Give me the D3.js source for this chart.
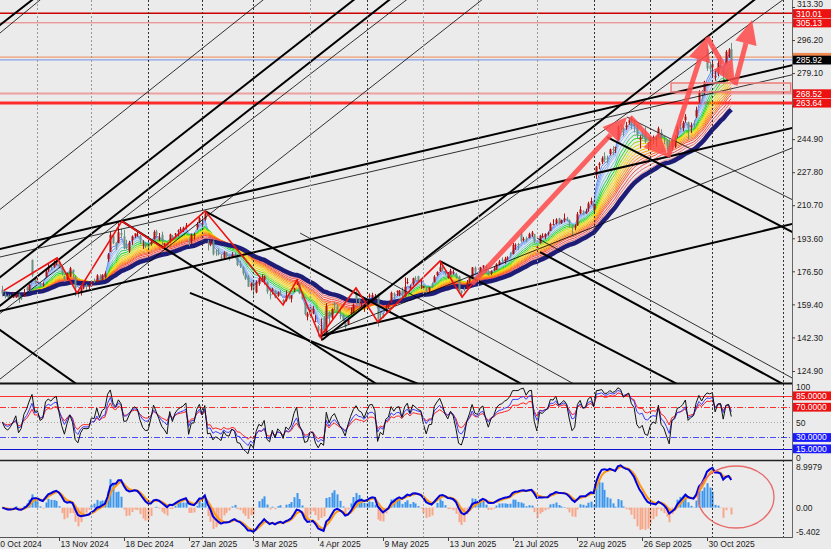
<!DOCTYPE html>
<html><head><meta charset="utf-8">
<script src="https://cdn.jsdelivr.net/npm/d3@7"></script>
<style>body{margin:0;background:#ebebeb}svg{display:block}</style>
</head><body>
<svg id="c" width="831" height="549"></svg>
<script>
// ---------- DATA (daily OHLC) ----------
const oct2024=[[167.0,169.0,163.5,164.9],[164.5,165.5,162.5,163.4],[164.0,164.6,161.8,162.9],[163.5,164.5,162.7,163.4],[162.9,165.5,162.7,164.1],[162.9,165.8,162.8,165.1],[164.5,164.9,160.1,162.1],[162.8,163.5,161.6,162.7],[163.5,167.4,163.3,165.3],[168.2,168.8,166.3,166.7],[167.1,169.7,166.5,169.7],[182.4,182.6,173.6,174.5],[173.0,173.6,170.2,171.1]];
const nov2024=[[170.9,173.9,170.4,171.3],[169.8,170.9,168.3,169.2],[169.2,170.8,168.6,169.7],[173.9,177.4,173.5,176.5],[176.9,180.8,176.2,178.8],[178.8,179.4,177.3,178.4],[178.9,182.0,178.2,180.5],[180.4,182.7,179.6,181.6],[181.6,182.1,178.1,178.9],[178.9,179.1,174.4,175.6],[173.8,174.1,171.1,172.5],[172.4,175.8,172.1,175.3],[173.7,178.8,173.5,178.1],[177.3,177.4,173.2,176.0],[173.9,174.1,163.7,167.6],[165.8,166.5,163.0,164.8],[165.3,168.1,164.0,167.7],[167.6,169.4,167.2,169.1],[169.5,169.9,166.5,168.9],[168.5,169.4,167.2,169.0]];
const dec2024=[[168.8,172.0,168.5,171.5],[171.5,172.8,170.5,171.3],[171.1,175.0,170.8,174.4],[174.0,175.0,172.0,172.6],[172.0,175.0,171.8,174.7],[173.3,176.5,172.8,175.4],[182.8,186.0,181.4,185.2],[186.6,196.9,186.5,195.4],[195.0,195.2,190.5,191.0],[191.3,191.5,187.5,189.8],[191.2,201.4,191.0,196.7],[196.3,198.6,194.0,195.4],[194.6,198.0,188.0,188.4],[189.9,192.8,187.9,188.5],[187.2,192.3,186.0,191.4],[192.6,195.1,190.2,194.6],[194.8,196.1,193.7,196.1],[195.2,196.8,194.4,195.6],[194.9,195.3,190.6,192.8],[189.8,192.6,188.1,190.4],[191.1,191.5,188.5,189.3]];
const jan2025=[[190.7,192.0,187.5,189.4],[190.6,192.4,189.8,191.8],[193.1,197.8,192.9,196.9],[197.1,198.0,193.7,195.5],[193.9,196.3,192.4,193.9],[195.4,197.0,190.0,192.0],[190.1,191.2,187.6,191.0],[191.2,191.9,187.9,189.7],[192.3,196.0,191.3,195.6],[194.9,195.3,192.7,192.9],[196.0,196.3,193.7,196.0],[197.0,198.2,194.6,197.6],[198.3,199.4,197.2,198.4],[198.0,199.6,196.8,199.0],[199.5,201.5,198.5,200.2],[192.0,194.0,189.5,191.8],[192.0,196.0,190.7,195.3],[195.0,196.5,193.0,195.4],[199.2,202.0,198.0,200.9],[201.8,204.7,201.5,204.0]];
const feb2025=[[200.7,203.8,199.5,201.2],[203.4,207.1,202.7,206.4],[192.0,192.8,187.3,191.3],[190.0,193.0,189.5,191.6],[192.0,192.6,184.7,185.3],[186.8,188.0,184.5,186.5],[186.0,188.3,184.7,185.3],[184.1,185.5,182.1,183.6],[183.5,186.9,183.1,186.1],[186.3,186.6,183.7,184.1],[184.3,184.6,182.0,183.8],[183.4,186.4,183.3,185.3],[185.5,186.0,183.3,184.6],[185.1,185.3,179.2,179.7],[180.3,182.0,178.2,179.3],[178.5,179.0,174.4,175.4],[174.9,175.9,172.0,172.7],[173.5,174.7,168.5,168.5],[168.7,170.6,166.6,170.3]];
const mar2025=[[170.4,172.1,163.9,167.0],[165.6,171.8,165.1,170.9],[170.0,173.8,169.0,173.0],[171.0,174.9,170.9,172.4],[172.0,174.3,169.7,173.9],[170.6,171.2,164.8,165.9],[164.6,167.8,162.0,164.0],[166.9,168.0,164.6,167.1],[166.4,167.0,162.6,162.8],[163.8,166.1,163.3,165.5],[164.9,166.9,163.9,164.3],[161.7,162.1,158.8,160.7],[161.5,166.6,160.8,163.9],[162.9,164.9,162.0,162.8],[162.4,164.2,160.4,164.0],[167.0,168.0,165.8,167.7],[169.8,172.5,169.4,170.6],[170.0,170.6,164.7,165.1],[164.0,165.1,161.8,162.2],[160.0,160.6,153.6,154.3],[153.0,155.5,151.1,154.6]];
const apr2025=[[154.0,158.0,153.0,157.1],[154.7,158.5,154.2,157.0],[150.4,153.8,150.2,150.7],[148.0,148.6,142.7,145.6],[141.5,152.1,140.5,146.8],[152.4,153.4,143.3,144.7],[143.8,160.0,142.7,158.7],[155.2,155.8,148.9,152.8],[152.4,157.3,151.5,157.1],[159.9,160.7,156.3,159.1],[158.2,159.7,156.2,156.3],[153.7,156.5,151.7,153.3],[154.0,154.2,150.6,151.2],[149.9,150.0,146.7,147.7],[149.1,152.6,148.9,151.5],[154.6,157.8,154.0,155.4],[155.0,159.8,154.8,159.3],[165.5,167.8,159.6,162.0],[162.0,162.8,158.5,160.6],[159.6,161.3,158.1,160.2],[157.6,159.5,155.5,158.8]];
const may2025=[[160.5,161.9,158.9,161.3],[163.4,165.0,162.5,164.0],[163.0,165.4,162.4,164.2],[162.1,164.8,161.6,163.2],[164.1,165.0,147.8,151.4],[154.5,155.8,150.9,154.3],[154.1,155.0,152.2,152.8],[157.5,159.1,155.3,158.5],[158.1,160.3,157.4,159.5],[160.5,166.0,160.0,165.4],[165.0,165.6,162.1,164.0],[166.0,166.7,163.7,166.2],[164.0,166.8,163.6,166.5],[166.4,168.2,163.2,164.0],[163.6,173.4,163.3,168.6],[170.4,173.0,169.8,170.9],[167.9,169.6,167.4,168.5],[170.2,173.2,169.2,172.9],[172.9,174.0,171.7,172.4],[174.0,174.2,170.6,171.9],[171.4,172.2,167.4,171.7]];
const jun2025=[[167.8,169.9,167.0,169.0],[167.5,168.5,165.1,166.2],[166.6,168.2,165.4,168.1],[170.0,170.8,167.8,168.2],[170.8,174.5,170.8,173.7],[174.5,176.5,174.0,176.1],[176.5,181.0,176.3,178.6],[179.4,179.9,176.6,177.4],[176.2,176.6,174.6,175.7],[173.0,176.1,172.7,174.7],[174.7,177.8,174.4,176.8],[175.7,177.3,174.8,176.0],[175.0,175.8,172.7,173.3],[173.9,174.2,166.4,166.6],[166.4,166.7,163.0,165.2],[167.4,168.2,166.0,166.8],[167.7,172.0,167.6,170.7],[170.8,173.6,170.3,173.5],[173.6,178.7,172.9,178.5],[178.4,179.0,175.0,176.2]];
const jul2025=[[176.0,176.3,172.9,175.8],[175.6,178.8,175.2,178.6],[178.8,179.7,177.5,179.5],[179.0,179.9,175.4,176.8],[176.4,177.1,174.3,174.4],[175.3,177.0,174.5,176.6],[177.1,179.0,176.6,177.6],[177.3,180.7,177.2,180.2],[180.1,182.3,179.6,181.6],[182.5,183.7,181.0,182.0],[181.9,184.0,180.4,183.0],[183.0,184.3,182.3,183.6],[185.2,186.4,183.7,185.1],[185.5,191.2,185.2,190.1],[190.0,191.0,187.5,190.2],[190.6,191.2,187.5,190.2],[196.0,197.0,191.5,192.2],[192.7,194.3,191.9,193.2],[193.5,194.5,191.6,192.6],[193.7,196.5,193.6,195.8],[195.6,197.4,194.4,196.5],[195.7,195.9,191.0,191.9]];
const aug2025=[[189.0,190.0,186.4,189.1],[191.0,195.4,190.9,195.0],[194.5,196.2,193.9,194.7],[194.4,196.2,193.2,195.8],[196.4,197.1,195.0,196.5],[197.4,201.7,197.3,201.0],[200.8,203.5,200.4,200.9],[201.6,204.0,200.8,203.3],[203.8,204.2,200.8,202.0],[201.5,203.3,201.0,202.9],[203.2,206.4,201.9,203.9],[203.8,204.7,202.5,203.5],[202.8,203.3,199.2,201.6],[200.3,200.3,194.9,199.3],[199.1,200.8,197.8,199.8],[200.1,207.2,200.0,206.1],[206.5,210.2,206.0,208.5],[207.8,208.0,205.8,207.1],[206.5,208.9,206.3,207.5],[209.0,212.5,207.3,211.6],[211.5,214.7,211.0,212.9]];
const sep2025=[[208.4,211.4,206.9,211.4],[226.2,231.0,224.3,230.7],[231.4,233.0,229.3,232.3],[233.0,236.0,232.0,235.0],[236.0,238.1,232.9,234.0],[235.0,236.4,232.5,234.4],[237.2,240.0,236.4,239.6],[239.9,241.3,236.7,239.2],[240.2,241.0,237.7,240.8],[244.7,252.0,244.4,251.6],[252.4,252.6,249.7,251.2],[250.7,251.3,246.4,249.5],[251.0,253.8,249.7,252.0],[253.3,256.0,252.4,254.7],[254.4,256.7,250.0,252.5],[253.0,254.3,248.4,251.7],[252.0,252.3,245.4,247.1],[244.6,246.8,240.1,245.8],[246.9,249.0,244.9,246.5],[247.8,251.1,242.8,243.6],[242.8,243.3,239.2,243.1]];
const oct2025=[[240.8,246.0,240.8,244.9],[245.2,246.8,242.3,245.7],[244.5,246.4,241.0,245.4],[247.7,251.4,246.1,250.4],[248.3,250.0,245.3,245.8],[244.9,246.5,242.2,244.6],[244.6,244.7,239.3,241.5],[241.4,244.8,235.0,236.6],[240.2,244.5,239.1,244.2],[241.2,247.0,240.4,245.5],[247.3,252.0,245.5,251.0],[252.8,254.6,249.7,251.5],[250.7,254.3,249.0,253.3],[254.7,257.9,253.5,256.6],[253.7,254.0,244.7,250.5],[251.0,253.5,248.1,251.7],[252.9,254.7,251.2,252.5],[256.6,261.7,255.8,259.9],[264.5,270.2,263.4,269.3],[269.6,270.4,265.5,267.5],[269.3,275.1,267.8,274.6],[291.6,291.8,280.2,281.5],[283.0,285.0,279.2,281.2]];
const nov2025=[[282.0,285.6,276.5,283.7],[276.8,281.0,275.1,277.5],[278.9,286.3,277.4,284.3],[285.2,288.2,281.6,284.8],[280.5,281.0,274.0,278.8],[284.0,291.0,283.5,290.1],[287.5,292.0,286.9,291.3],[291.5,294.7,285.0,285.9]];

const tickLabels=["10 Oct 2024","13 Nov 2024","18 Dec 2024","27 Jan 2025","3 Mar 2025","4 Apr 2025","9 May 2025","13 Jun 2025","21 Jul 2025","22 Aug 2025","26 Sep 2025","30 Oct 2025"];
const tickBars=[-3,21,45,69,93,117,141,165,189,213,237,261];
const monthBars=[13,33,54,74,93,114,135,156,176,198,219,240,263,289];
const monthDark=[0,0,1,1,1,0,1,0,0,0,1,1,1,1];
const priceTicks=[313.30,296.20,279.10,262.00,244.90,227.80,210.70,193.60,176.50,159.40,142.30,124.90];
const hiddenTicks=[262.00];

const levelPrices=[310.01,305.13,287.36,285.92,268.52,263.64];
const levelLabels=["310.01","305.13","","285.92","268.52","263.64"];
const rsiLevels=[85,70,50,30,15];
const rsiLabels=["85.0000","70.0000","","30.0000","15.0000"];

// trend lines [bar1, price1, bar2, price2]
const thickLines=[[45.07,223.76,110.26,295.18],[58.41,223.76,110.26,280.69],[-0.85,303.98,11,316.92],[-0.85,188.04,292.5,283.12],[-0.85,155.95,292.5,250.67],[-0.85,146.1,26.93,118.7]];
const thinLines=[[63.22,223.76,110.26,274.48],[12.85,223.76,96.56,316.92],[92.85,223.76,110.26,242.91],[-0.85,299.84,13.96,316.92],[-0.85,183.9,292.5,278.2]];
const thickRays=[[117.67,143.0,292.48,200.98],[118.4,140.94,213.96,246.01],[44.3,202.5,110.26,143.5],[75.1,207.7,143.59,155.4],[69.5,165.3,122.5,135.8],[162.1,181.8,221.37,138.87],[224.0,246.0,269.5,213.4],[199.15,186.49,288.4,118.7]];
const thinRays=[[110.3,196.3,135.1,177.2],[231.37,256.36,292.48,213.66],[117.67,143.0,292.48,240.32],[117.67,142.5,172.1,197.9],[198.0,193.74,292.48,121.3]];

// zigzag and arrows
const zigBars=[0.5,20.3,27.7,44.3,59.5,75.1,104,109.1,117.7,131,139.1,162.1,170.3,174];
const zigPrices=[166.5,183.4,165.3,202.5,188.6,207.7,159.1,172.0,142.5,167.9,150.3,181.8,163.2,169.9];
const arrowsData=[[173.96,169.93,231.37,256.36],[232.48,256.36,246.56,235.66],[246.56,235.66,261.0,297.77],[261.0,297.77,271.37,272.93],[271.37,272.93,277.67,306.57]];
const boxBars=[247.7,292];
const boxPrices=[273.96,269.3];

const emaPeriods=[3,4,5,6,8,10,12,14,16,18,20,22,24,26,28,31,34,37];
const emaColors=['#5b86f0','#7099f5','#86adf8','#9cc0fb','#78c8e8','#30c860','#10dd10','#88d800','#d8e000','#ffd400','#ffb800','#ff9c00','#ff8000','#ff6420','#ff4a30','#f04848','#f06868','#f48c8c'];
const navyPeriod=40;

// ---------- BUILD ----------
const bars=[].concat(oct2024,nov2024,dec2024,jan2025,feb2025,mar2025,apr2025,may2025,jun2025,jul2025,aug2025,sep2025,oct2025,nov2025);
const close=bars.map(d=>d[3]);

function ema(a,n){const k=2/(n+1);let p=a[0];return a.map((v,i)=>{p=i===0?v:v*k+p*(1-k);return p;});}
function rsi(c,n){const out=[50];let ag=1,al=1;for(let i=1;i<c.length;i++){const ch=c[i]-c[i-1];ag=(ag*(n-1)+Math.max(ch,0))/n;al=(al*(n-1)+Math.max(-ch,0))/n;out.push(100-100/(1+ag/al));}return out;}

const W=831,H=549,R=792;
const x=d3.scaleLinear().domain([0,270]).range([2.3,2.3+270*2.7]);
const y=d3.scaleLinear().domain([124.9,313.3]).range([371,7]);
const yR=d3.scaleLinear().domain([0,100]).range([460,384.3]);
const yM=d3.scaleLinear().domain([-5.402,8.9979]).range([532,467]);

const svg=d3.select('#c');
svg.append('rect').attr('width',W).attr('height',H).attr('fill','#ebebeb');
const defs=svg.append('defs');
[['cp',0,0,R,383],['cr',0,385,R,75],['cm',0,462,R,75]].forEach(c=>{defs.append('clipPath').attr('id',c[0]).append('rect').attr('x',c[1]).attr('y',c[2]).attr('width',c[3]).attr('height',c[4]);});

const gP=svg.append('g').attr('clip-path','url(#cp)');
const gR=svg.append('g').attr('clip-path','url(#cr)');
const gM=svg.append('g').attr('clip-path','url(#cm)');

monthBars.forEach((b,i)=>{
  svg.append('line').attr('x1',Math.round(x(b))+0.5).attr('x2',Math.round(x(b))+0.5).attr('y1',0).attr('y2',537)
   .attr('stroke',monthDark[i]?'#333':'#999').attr('stroke-width',1).attr('stroke-dasharray','2,2');
});

const lvlStyle=[['#cc0000',1.5],['#e87878',1],['#f08a50',1],['#6f90ea',1],['#eea0a0',2],['#ff2a2a',3]];
levelPrices.forEach((p,i)=>{gP.append('line').attr('x1',0).attr('x2',R).attr('y1',y(p)).attr('y2',y(p)).attr('stroke',lvlStyle[i][0]).attr('stroke-width',lvlStyle[i][1]);});

const line=d3.line().x((d,i)=>x(i)).y(d=>y(d));
emaPeriods.forEach((n,i)=>{gP.append('path').attr('d',line(ema(close,n))).attr('fill','none').attr('stroke',emaColors[i]).attr('stroke-width',1);});
gP.append('path').attr('d',line(ema(close,navyPeriod))).attr('fill','none').attr('stroke','#1d1d78').attr('stroke-width',4.5);

const cg=gP.append('g');
bars.forEach((d,i)=>{
  const up=d[3]>=d[0];const col=up?'#b40f0f':'#6c9084';
  const cx=Math.round(x(i))+0.5;
  cg.append('line').attr('x1',cx).attr('x2',cx).attr('y1',y(d[1])).attr('y2',y(d[2])).attr('stroke',col).attr('stroke-width',1);
  const t=y(Math.max(d[0],d[3])),b=y(Math.min(d[0],d[3]));
  cg.append('rect').attr('x',cx-1).attr('y',t).attr('width',2).attr('height',Math.max(1,b-t)).attr('fill',col);
});

function drawTL(arr,w,ray){
  arr.forEach(l=>{
    const x1=x(l[0]),y1=y(l[1]),x2=x(l[2]),y2=y(l[3]);const s=(y2-y1)/(x2-x1);
    const xa=ray?x1:-20,xb=R+20;
    gP.append('line').attr('x1',xa).attr('y1',y1+s*(xa-x1)).attr('x2',xb).attr('y2',y1+s*(xb-x1)).attr('stroke','#000').attr('stroke-width',w);
  });
}
drawTL(thinLines,0.8,false);
drawTL(thinRays,0.8,true);
drawTL(thickLines,2,false);
drawTL(thickRays,2,true);

gP.append('rect').attr('x',x(boxBars[0])).attr('y',y(boxPrices[0])).attr('width',x(boxBars[1])-x(boxBars[0])).attr('height',y(boxPrices[1])-y(boxPrices[0]))
  .attr('fill','rgba(255,120,120,0.08)').attr('stroke','#f07a7a').attr('stroke-width',1.5);

gP.append('path').attr('d',d3.line().x(d=>x(d[0])).y(d=>y(d[1]))(zigBars.map((b,i)=>[b,zigPrices[i]])))
  .attr('fill','none').attr('stroke','#ee1111').attr('stroke-width',1.6);

const ag=svg.append('g').attr('opacity',0.85);
arrowsData.forEach(a=>{
  const x1=x(a[0]),y1=y(a[1]),x2=x(a[2]),y2=y(a[3]);
  const ang=Math.atan2(y2-y1,x2-x1),c=Math.cos(ang),s=Math.sin(ang),hl=24,hw=11;
  const bx=x2-hl*c,by=y2-hl*s;
  ag.append('line').attr('x1',x1).attr('y1',y1).attr('x2',bx).attr('y2',by).attr('stroke','#ff4a4a').attr('stroke-width',5);
  ag.append('path').attr('d',`M${x2},${y2}L${bx+hw*s},${by-hw*c}L${bx-hw*s},${by+hw*c}Z`).attr('fill','#ff4a4a');
});

// RSI panel
const rsiStyle=[['#ff3030',1,null],['#ff3030',1,'6,2,1,2'],['#aaa',1,'1,2'],['#4a4aff',1,'6,2,1,2'],['#1010d0',1,null]];
rsiLevels.forEach((v,i)=>{const l=gR.append('line').attr('x1',0).attr('x2',R).attr('y1',Math.round(yR(v))+0.5).attr('y2',Math.round(yR(v))+0.5).attr('stroke',rsiStyle[i][0]).attr('stroke-width',rsiStyle[i][1]);if(rsiStyle[i][2])l.attr('stroke-dasharray',rsiStyle[i][2]);});
const rl=d3.line().x((d,i)=>x(i)).y(d=>yR(d));
[[14,'#ff2020'],[9,'#3a3aff'],[5,'#111']].forEach(r=>{gR.append('path').attr('d',rl(rsi(close,r[0]))).attr('fill','none').attr('stroke',r[1]).attr('stroke-width',1);});

// MACD panel
const eF=ema(close,6),eS=ema(close,13);
const macd=eF.map((v,i)=>v-eS[i]);
const sig5=ema(macd,5), sigF=ema(macd,3);
macd.forEach((m,i)=>{const h=(m-sig5[i])*2.5;const y0=yM(0),y1=yM(h);
  gM.append('rect').attr('x',Math.round(x(i))-0.5).attr('y',Math.min(y0,y1)).attr('width',2).attr('height',Math.abs(y1-y0)).attr('fill',h>=0?'#3a96ee':'#f7a688');});
const ml=d3.line().x((d,i)=>x(i)).y(d=>yM(d));
gM.append('path').attr('d',ml(sigF)).attr('fill','none').attr('stroke','#ff9a10').attr('stroke-width',2);
gM.append('path').attr('d',ml(macd)).attr('fill','none').attr('stroke','#0000dd').attr('stroke-width',2);
svg.append('ellipse').attr('cx',736).attr('cy',497).attr('rx',38).attr('ry',31).attr('fill','none').attr('stroke','#e86a6a').attr('stroke-width',1.3);

// borders
svg.append('line').attr('x1',0).attr('x2',R).attr('y1',383.5).attr('y2',383.5).attr('stroke','#111').attr('stroke-width',2);
svg.append('line').attr('x1',0).attr('x2',R).attr('y1',460.5).attr('y2',460.5).attr('stroke','#222').attr('stroke-width',1.5);
svg.append('line').attr('x1',0).attr('x2',R).attr('y1',537.5).attr('y2',537.5).attr('stroke','#555').attr('stroke-width',1);
svg.append('line').attr('x1',R+0.5).attr('x2',R+0.5).attr('y1',0).attr('y2',538).attr('stroke','#666').attr('stroke-width',1);

const font='"Liberation Sans",Arial,sans-serif';
const ax=svg.append('g').attr('transform',`translate(${R},0)`).call(d3.axisRight(y).tickValues(priceTicks).tickFormat(d=>hiddenTicks.includes(d)?'':d.toFixed(2)).tickSize(3));
ax.select('.domain').remove();
ax.selectAll('text').attr('font-family',font).attr('font-size',8.5).attr('fill','#222').attr('x',5);
ax.selectAll('.tick').filter(d=>d===313.30).select('text').attr('dy','-0.1em');
ax.selectAll('line').attr('stroke','#444');

function tag(yv,txt,bg,fg){svg.append('rect').attr('x',R+1).attr('y',yv-4.2).attr('width',38).attr('height',8.8).attr('fill',bg);
  if(txt)svg.append('text').attr('x',R+4).attr('y',yv+3.2).attr('font-family',font).attr('font-size',8.5).attr('fill',fg).text(txt);}
const tagBg=['#ee1111','#ee1111','#f08a50','#000','#ee1111','#ee1111'];
[2,0,1,4,5,3].forEach(i=>tag(y(levelPrices[i]),levelLabels[i],tagBg[i],'#fff'));

[[100,'100',389.5],[50,'50',426],[0,'0',461]].forEach(d=>{svg.append('text').attr('x',R+4).attr('y',d[2]).attr('font-family',font).attr('font-size',8.5).attr('fill','#222').text(d[1]);});
const rsiBg=['#ee1111','#ee1111',null,'#1a1aff','#1a1aff'];
rsiLevels.forEach((v,i)=>{if(rsiBg[i])tag(yR(v),rsiLabels[i],rsiBg[i],'#fff');});

[[8.9979,'8.9979'],[0,'0.00'],[-5.402,'-5.402']].forEach(d=>{svg.append('text').attr('x',R+4).attr('y',yM(d[0])+3.3).attr('font-family',font).attr('font-size',8.5).attr('fill','#222').text(d[1]);});

tickBars.forEach((b,i)=>{const tx=Math.round(x(b))+0.5;
  svg.append('line').attr('x1',tx).attr('x2',tx).attr('y1',537).attr('y2',541).attr('stroke','#444');
  svg.append('text').attr('x',tx+1).attr('y',547).attr('font-family',font).attr('font-size',8.5).attr('fill','#222').text(tickLabels[i]);
});
</script>
</body></html>
